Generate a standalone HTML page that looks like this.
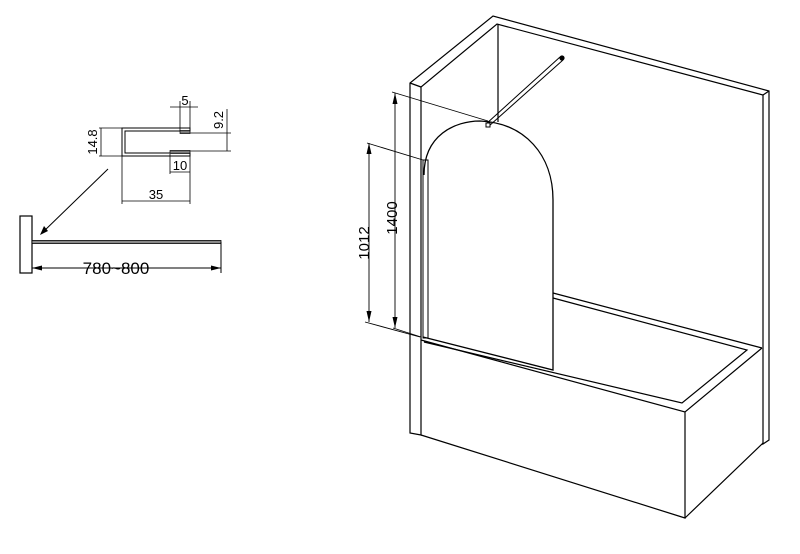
<!DOCTYPE html>
<html><head><style>body{margin:0;background:#fff}svg{display:block}text{font-family:"Liberation Sans",Arial,sans-serif;fill:#000}</style></head><body>
<svg width="800" height="554" viewBox="0 0 800 554" xmlns="http://www.w3.org/2000/svg" fill="none" stroke="#000" stroke-width="1.2">
<!-- left detail -->
<rect x="20" y="216" width="12" height="57"/>
<rect x="32" y="240.5" width="189" height="3" fill="#888" stroke-width="0.8"/>
<line x1="32" y1="268" x2="221" y2="268" stroke-width="1"/>
<polygon points="32,268 42,265.5 42,270.5" fill="#000" stroke="none"/>
<polygon points="221,268 211,265.5 211,270.5" fill="#000" stroke="none"/>
<line x1="221" y1="242" x2="221" y2="273" stroke-width="1"/>
<text x="116" y="274" font-size="17" text-anchor="middle" stroke="none">780~800</text>
<line x1="108" y1="169" x2="42" y2="233" stroke-width="1"/>
<polygon points="40,235 44,226 48,231" fill="#000" stroke="none"/>
<!-- profile -->
<path d="M190,128 H122 V156 H190 V153 H125 V131 H190 Z" stroke-width="1"/>
<rect x="180" y="130.5" width="10" height="3" fill="#777" stroke-width="0.7"/>
<rect x="170" y="150.5" width="20" height="3" fill="#777" stroke-width="0.7"/>
<g stroke-width="0.8">
<line x1="99" y1="128" x2="122" y2="128"/><line x1="99" y1="156" x2="122" y2="156"/>
<line x1="101" y1="128" x2="101" y2="156"/>
<line x1="170" y1="107" x2="198" y2="107"/><line x1="180" y1="101" x2="180" y2="131"/><line x1="190" y1="101" x2="190" y2="131"/>
<line x1="190" y1="133" x2="231" y2="133"/><line x1="190" y1="151" x2="231" y2="151"/><line x1="227" y1="109" x2="227" y2="151"/>
<line x1="170" y1="154" x2="170" y2="174"/><line x1="190" y1="154" x2="190" y2="204"/><line x1="170" y1="172" x2="190" y2="172"/>
<line x1="122" y1="156" x2="122" y2="204"/><line x1="122" y1="201" x2="190" y2="201"/>
</g>
<text x="185" y="105" font-size="13" text-anchor="middle" stroke="none">5</text>
<text x="180" y="170" font-size="13" text-anchor="middle" stroke="none">10</text>
<text x="156" y="199" font-size="13" text-anchor="middle" stroke="none">35</text>
<text transform="translate(97,142) rotate(-90)" font-size="13" text-anchor="middle" stroke="none">14.8</text>
<text transform="translate(223,120) rotate(-90)" font-size="13" text-anchor="middle" stroke="none">9.2</text>
<!-- walls -->
<path d="M410,83 V433 L421,435 V87 L497,24 L763,95 V444 L769,440 V91 L493,16 Z"/>
<line x1="410" y1="83" x2="421" y2="87"/>
<line x1="763" y1="95" x2="769" y2="91"/>
<line x1="498" y1="24" x2="498" y2="122"/>
<!-- tub -->
<path d="M421,340 L685,412 L762,348 M685,412 V518 L421,435 M685,518 L763,443"/>
<path d="M553,293 L762,348 M553,298 L747,350 L682,403 L424,342"/>
<!-- glass -->
<path d="M424,175 C424,135 455,121 480,121 C525,123 553,155 553,200 V370 L423,337" stroke-width="1.3"/>
<rect x="423" y="160" width="5" height="178" stroke-width="1"/>
<!-- hinge bar -->
<path d="M486,124 L560,57 M489,126 L563,60" stroke-width="1"/>
<circle cx="562" cy="58" r="2" fill="#000"/>
<rect x="486" y="123" width="4" height="4" stroke-width="1" fill="#fff"/>
<!-- dims -->
<g stroke-width="0.9">
<line x1="392" y1="92" x2="488" y2="121"/><line x1="393" y1="328" x2="421" y2="337"/>
<line x1="395" y1="93" x2="395" y2="328"/>
<line x1="367" y1="143" x2="423" y2="160"/><line x1="365" y1="322" x2="420" y2="337"/>
<line x1="369" y1="143" x2="369" y2="322"/>
</g>
<polygon points="395,93 392.5,104 397.5,104" fill="#000" stroke="none"/>
<polygon points="395,328 392.5,317 397.5,317" fill="#000" stroke="none"/>
<polygon points="369,143 366.5,154 371.5,154" fill="#000" stroke="none"/>
<polygon points="369,322 366.5,311 371.5,311" fill="#000" stroke="none"/>
<text transform="translate(397,218) rotate(-90)" font-size="15" text-anchor="middle" stroke="none">1400</text>
<text transform="translate(369,243) rotate(-90)" font-size="15" text-anchor="middle" stroke="none">1012</text>
</svg>
</body></html>
